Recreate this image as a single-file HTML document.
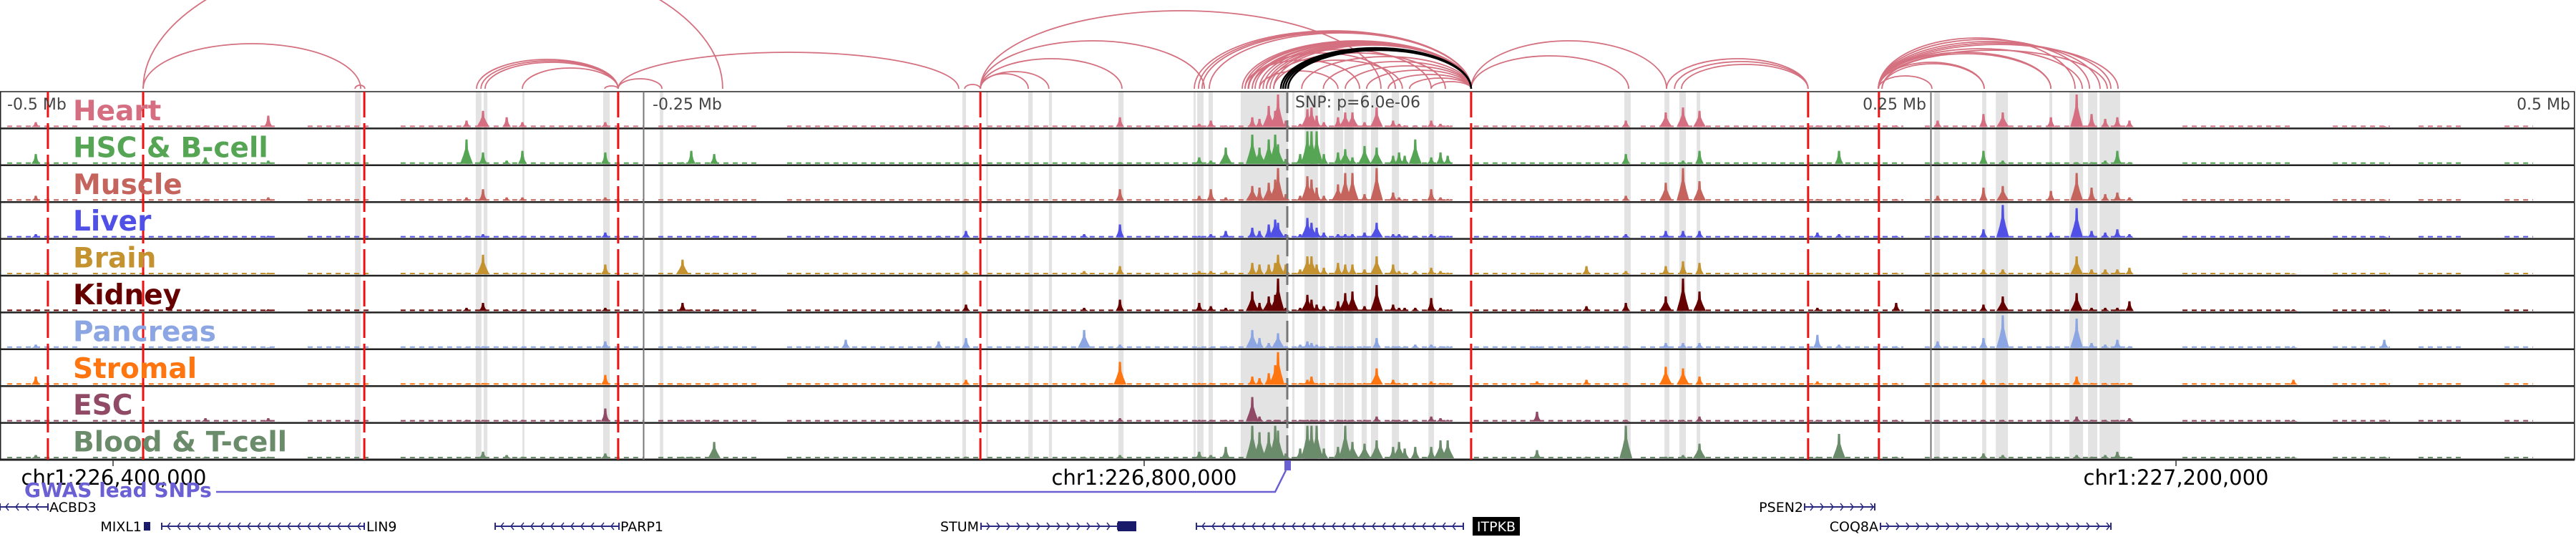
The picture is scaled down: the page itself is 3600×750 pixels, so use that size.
<!DOCTYPE html>
<html><head><meta charset="utf-8">
<style>
html,body{margin:0;padding:0;background:#fff;}
svg{display:block;}
text{font-family:"DejaVu Sans","Liberation Sans",sans-serif;}
</style></head>
<body>
<svg id="chart" width="3600" height="750" viewBox="0 0 3600 750" xmlns="http://www.w3.org/2000/svg">
  <g id="greys"></g>
  <g id="arcs"></g>
  <g id="tracks"></g>
  <g id="vlines"></g>
  <g id="labels"></g>
  <g id="axis">
    <text x="10" y="153" font-size="22" fill="#444">-0.5 Mb</text>
    <text x="912" y="153" font-size="22" fill="#444">-0.25 Mb</text>
    <text x="2692" y="153" font-size="22" fill="#444" text-anchor="end">0.25 Mb</text>
    <text x="3592" y="153" font-size="22" fill="#444" text-anchor="end">0.5 Mb</text>
    <text x="1810" y="150" font-size="22" fill="#444">SNP: p=6.0e-06</text>
    <line x1="158" y1="642" x2="158" y2="651" stroke="#333" stroke-width="1.5"/>
    <line x1="1599" y1="642" x2="1599" y2="651" stroke="#333" stroke-width="1.5"/>
    <line x1="3041" y1="642" x2="3041" y2="651" stroke="#333" stroke-width="1.5"/>
    <text x="159" y="677" font-size="29" text-anchor="middle" fill="#000">chr1:226,400,000</text>
    <text x="1599" y="677" font-size="29" text-anchor="middle" fill="#000">chr1:226,800,000</text>
    <text x="3041" y="677" font-size="29" text-anchor="middle" fill="#000">chr1:227,200,000</text>
  </g>
  <g id="gwas">
    <text x="34" y="694" font-size="28" font-weight="bold" fill="#6a5fd3">GWAS lead SNPs</text>
    <polyline points="302,687 1782,687 1797,657" fill="none" stroke="#6a5fd3" stroke-width="2.5"/>
    <rect x="1795" y="643" width="9" height="14" fill="#6a5fd3"/>
  </g>
  <g id="genes"></g>
</svg>
<script>
// ---- data (positions in kb from window start; window = 1000 kb) ----
const trackNames = ["Heart","HSC & B-cell","Muscle","Liver","Brain","Kidney","Pancreas","Stromal","ESC","Blood & T-cell"];
const trackColors = ["#d66e82","#55a555","#c4645c","#5050e6","#c4922e","#660000","#8ca5e3","#ff7510","#904a66","#6a8c6a"];
const peakPos = [13.9,79.8,104.2,181.2,187.6,196.8,202.9,235.1,265.1,268.5,277.4,328.5,364.6,375.2,421.1,435.0,465.8,470.3,476.1,486.4,489.2,492.8,495.3,496.4,499.4,505.0,507.8,509.4,511.4,514.2,519.7,522.5,525.3,530.0,534.7,541.1,543.4,545.6,549.7,555.9,559.5,562.3,597.0,616.2,631.5,647.0,653.7,660.1,705.9,714.3,736.5,752.6,770.4,777.9,796.6,806.6,812.4,817.7,822.4,827.1,890.8,926.1];
const heartH = [.15,.05,.35,.2,.5,.3,.15,.15,.05,.05,0,0,0,.05,0,.3,.1,.2,.05,.3,.25,.65,.5,1,.2,.1,.55,.6,.35,.15,.3,.45,.45,.15,.6,.2,.1,.05,.05,.2,.1,.05,0,.05,.2,.45,.6,.5,.05,.05,.05,.2,.4,.45,.3,1,.4,.25,.3,.2,0,.03];
const hscH = [.3,.2,.1,.75,.35,.1,.4,.35,.05,.4,.3,0,0,.05,.05,.05,.2,.1,.5,.9,.5,.75,.9,.6,.15,.3,1,1,1,.3,.35,.45,.2,.55,.5,.25,.35,.25,.75,.2,.35,.25,0,0,.3,.05,.1,.4,0,.4,0,.05,.4,.1,.05,.05,.05,.1,.4,.05,0,0];
const muscleH = [.15,.05,.1,.1,.35,.1,.1,.1,0,0,0,0,0,.05,0,.35,.15,.35,.1,.45,.4,.55,.65,1,.2,.15,.75,.65,.4,.15,.5,.85,.85,.2,1,.25,.1,.05,.05,.35,.1,.05,0,.05,.15,.55,1,.6,.05,.05,.05,.15,.4,.45,.3,.85,.4,.2,.25,.1,0,.03];
const liverH = [.1,.05,.05,.05,.1,.05,.05,.15,0,0,.05,0,.05,.2,.1,.4,.05,.1,.2,.3,.2,.4,.55,.45,.1,.1,.6,.45,.3,.15,.1,.1,.1,.15,.45,.1,.1,.05,.05,.1,.05,.05,.05,.05,.1,.2,.2,.2,.15,.1,.05,.05,.25,1,.15,.9,.2,.15,.25,.1,0,.03];
const brainH = [.05,0,.05,.05,.6,.05,.05,.3,.45,0,.05,.05,.05,.1,.1,.25,.1,.1,.1,.35,.3,.3,.35,.6,.3,.15,.55,.55,.3,.2,.35,.3,.3,.15,.55,.3,.1,.05,.1,.2,.1,.05,.05,.25,.1,.25,.4,.35,.05,.05,.05,.05,.15,.15,.1,.55,.15,.15,.15,.2,.03,.05];
const kidneyH = [.05,.05,.05,.1,.25,.05,.05,.1,.25,.05,.05,0,.05,.2,.1,.35,.25,.15,.1,.6,.25,.45,.5,1,.1,.1,.5,.35,.2,.15,.3,.55,.6,.15,.8,.2,.1,.1,.1,.4,.1,.05,.05,.15,.25,.45,1,.6,.1,.05,.25,.05,.2,.45,.05,.55,.1,.1,.1,.3,.05,.05];
const pancreasH = [.1,.02,.02,.02,.05,.02,.02,.2,.02,0,.02,.25,.2,.3,.55,.1,.02,.02,.05,.55,.3,.15,.15,.45,.05,.1,.2,.15,.1,.05,.05,.05,.05,.05,.3,.05,.05,.05,.1,.1,.05,.05,.05,.05,.05,.15,.15,.15,.4,.1,.05,.2,.3,1,.05,.9,.15,.1,.25,.05,.05,.25];
const stromalH = [.25,.02,.02,.02,.05,.02,.02,.3,.02,0,.02,.02,.02,.15,.05,.7,.05,.05,.05,.25,.2,.35,.6,1,.05,.05,.15,.25,.05,.05,.05,.05,.05,.05,.5,.15,.05,.05,.05,.1,.05,.05,.1,.15,.05,.55,.5,.25,.1,.05,.05,.05,.15,.05,.05,.25,.05,.05,.05,.05,.15,.05];
const escH = [.05,.1,.1,.05,.05,.05,.05,.4,.05,.05,.05,0,.05,.05,.05,.1,.05,.05,.05,.75,.15,.05,.05,.05,.05,.05,.05,.05,.05,.05,.05,.05,.05,.05,.15,.05,.05,.05,.05,.15,.1,.05,.3,.05,.05,.05,.05,.15,.05,.05,.05,.05,.05,.05,.05,.15,.05,.05,.05,.1,.05,.05];
const bloodH = [.1,.05,.05,.05,.2,.1,.05,.15,.05,.05,.5,0,.02,.05,.05,.1,.2,.1,.35,1,.8,.8,1,.85,.15,.3,1,1,1,.3,.35,1,.5,.45,.55,.35,.5,.3,.35,.35,.55,.55,.25,.05,1,.05,.1,.45,.05,.75,.05,.05,.15,.1,.05,.1,.05,.1,.2,.05,.05,.05];
const baseSegStart = [2.8,36.1,119.5,155.6,255.7,305.7,383.5,501.7,572.5,637.3,747.6,847.7,906.1,939.4,972.8];
const baseSegEnd   = [30.6,108.4,144.5,250.1,294.6,380.8,500.3,564.2,633.7,739.3,828.2,889.4,928.3,956.1,983.9];
const greyStart = [137.9,184.8,187.9,202.9,234.3,256.3,373.8,383.0,399.4,407.4,434.4,463.6,465.0,469.4,481.9,501.9,506.7,512.8,518.1,522.2,528.9,532.5,540.6,554.8,630.9,646.5,652.3,659.0,751.3,769.9,775.2,796.0,803.8,811.0,815.5];
const greyEnd   = [140.1,187.0,189.3,203.7,236.8,257.6,375.2,383.8,401.1,408.6,436.4,464.4,467.5,471.1,500.3,502.8,511.9,514.7,521.7,525.8,530.9,535.3,543.4,557.0,633.4,648.4,654.8,660.4,753.5,771.5,779.9,797.1,809.1,814.6,823.5];
const redLines = [18.6,55.6,141.5,240.1,380.8,571.4,702.3,729.8];
const arcFrom = [55.6,55.6,137.9,185.1,186.8,188.4,202.9,234.9,240.1,240.1,374.7,380.8,380.8,380.8,380.8,380.8,
  463.9,465.5,466.9,469.7,482.5,483.6,484.8,486.4,487.5,489.2,490.6,491.9,493.3,494.7,
  483.6,485.0,486.4,489.2,491.9,494.7,505.6,514.0,522.5,530.8,539.2,547.5,555.9,
  571.4,571.4,647.3,650.4,653.1,729.6,729.6,731.0,729.6,731.0,729.6,729.6,729.6,729.6,729.6,729.6,729.6];
const arcTo = [280.7,140.1,141.7,240.1,240.1,240.1,240.1,240.1,257.1,372.4,380.8,399.4,407.4,435.8,467.8,536.4,
  571.4,571.4,571.4,571.4,571.4,571.4,571.4,571.4,571.4,571.4,571.4,571.4,571.4,571.4,
  528.1,542.0,555.9,519.7,561.4,544.7,571.4,571.4,571.4,571.4,571.4,571.4,571.4,
  632.6,647.3,702.3,702.3,702.3,750.4,770.7,770.7,796.6,796.6,806.0,808.8,811.6,815.7,818.5,819.9,822.7];
const arcHeight = [200,63,5,41,39,37,29,4,14,51,6,21,24,42,67,109,
  81,80,79,78,67,66,66,65,65,64,63,62,62,61,
  40,50,55,25,50,40,45,38,32,26,20,15,10,
  46,67,42,38,34,18,37,35,51,49,71,56,69,66,54,64,62];
const blackFrom = [497.5,498.4,499.3,500.3];
const blackTo = [571.4,571.4,571.4,571.4];
const blackHeight = [57,56,55,54];

// ---- geometry ----
const X0 = 0, PXPERKB = 3.598;
function xs(kb){ return X0 + kb*PXPERKB; }
const TOP = 128, TH = 51.4, NT = 10, BOT = TOP + TH*NT;
const ARCBASE = 124;
const NS = "http://www.w3.org/2000/svg";
function mk(tag, attrs, parent){
  const e = document.createElementNS(NS, tag);
  for (const k in attrs) e.setAttribute(k, attrs[k]);
  parent.appendChild(e);
  return e;
}

const gG = document.getElementById('greys');
for (let i=0;i<greyStart.length;i++){
  const r = mk('rect',{x:xs(greyStart[i]),y:TOP,width:Math.max(2,xs(greyEnd[i])-xs(greyStart[i])),height:BOT-TOP,fill:'#e3e3e3'},gG);
  
  
}

const aG = document.getElementById('arcs');
function arcPath(a,b,h){
  const x1 = xs(a), x2 = xs(b), rx = (x2-x1)/2;
  return `M${x1},${ARCBASE} A${rx},${h} 0 0 1 ${x2},${ARCBASE}`;
}
for (let i=0;i<arcFrom.length;i++){
  const p = mk('path',{d:arcPath(arcFrom[i],arcTo[i],arcHeight[i]),fill:'none',stroke:'#d4707f','stroke-width':1.8},aG);
  
  
}
for (let i=0;i<blackFrom.length;i++){
  const p = mk('path',{d:arcPath(blackFrom[i],blackTo[i],blackHeight[i]),fill:'none',stroke:'#000','stroke-width':2.5},aG);
  
  
}

const tG = document.getElementById('tracks');
const heights = [heartH,hscH,muscleH,liverH,brainH,kidneyH,pancreasH,stromalH,escH,bloodH];
for (let t=0;t<NT;t++){
  const top = TOP + t*TH, base = top + TH - 2, maxH = TH - 6;
  const g = mk('g',{},tG);
  
  
  for (let s=0;s<baseSegStart.length;s++){
    const ln = mk('line',{x1:xs(baseSegStart[s]),x2:xs(baseSegEnd[s]),y1:base-1,y2:base-1,stroke:trackColors[t],'stroke-width':2,'stroke-dasharray':'7 6'},g);
    
    
  }
  const hs = heights[t];
  for (let i=0;i<peakPos.length;i++){
    const h = hs[i]*maxH;
    if (h <= 0) continue;
    const cx = xs(peakPos[i]);
    const w = h > 20 ? 9 : 6;
    const p = mk('path',{d:`M${cx-w},${base} L${cx-w*0.5},${base-h*0.35} L${cx-2},${base-h*0.6} L${cx-1.5},${base-h} L${cx+1.5},${base-h} L${cx+2},${base-h*0.6} L${cx+w*0.5},${base-h*0.35} L${cx+w},${base} Z`,fill:trackColors[t]},g);
    
    
  }
  const sep = mk('line',{x1:0,x2:3598,y1:top+TH,y2:top+TH,stroke:'#222','stroke-width':t===NT-1?3:2.5},g);
  
  
}
const fr = mk('rect',{x:0.75,y:TOP,width:3597,height:BOT-TOP,fill:'none',stroke:'#222','stroke-width':1.5},tG);



const vG = document.getElementById('vlines');
for (let i=0;i<redLines.length;i++){
  const l = mk('line',{x1:xs(redLines[i]),x2:xs(redLines[i]),y1:TOP,y2:BOT,stroke:'#ee1111','stroke-width':3,'stroke-dasharray':'36 8'},vG);
  
  
}
const gl1 = mk('line',{x1:xs(250),x2:xs(250),y1:TOP,y2:BOT,stroke:'#777','stroke-width':2},vG);


const gl2 = mk('line',{x1:xs(750),x2:xs(750),y1:TOP,y2:BOT,stroke:'#777','stroke-width':2},vG);


const snpl = mk('line',{x1:xs(500),x2:xs(500),y1:TOP,y2:BOT,stroke:'#777','stroke-width':3,'stroke-dasharray':'30 10'},vG);



const lG = document.getElementById('labels');
for (let t=0;t<NT;t++){
  const tx = mk('text',{x:102,y:TOP+t*TH+40,'font-size':39,'font-weight':'bold',fill:trackColors[t]},lG);
  tx.textContent = trackNames[t];
  
  
}

const geG = document.getElementById('genes');
const geneName = ["ACBD3","LIN9","PARP1","STUM","ITPKB","PSEN2","COQ8A"];
const geneX1 = [0,226,692,1371,1672,2522,2628];
const geneX2 = [67,509,865,1562,2045,2620,2950];
const geneRow = [708,735,735,735,735,708,735];
const geneDir = [-1,-1,-1,1,-1,1,1];
for (let i=0;i<geneName.length;i++){
  const y = geneRow[i];
  const g = mk('g',{},geG);
  
  
  mk('line',{x1:geneX1[i],x2:geneX2[i],y1:y,y2:y,stroke:'#2a2a80','stroke-width':2},g);
  for (let x=geneX1[i]+8; x<geneX2[i]-4; x+=14){
    const d = geneDir[i]<0 ? `M${x+4},${y-5} L${x},${y} L${x+4},${y+5}` : `M${x},${y-5} L${x+4},${y} L${x},${y+5}`;
    mk('path',{d:d,fill:'none',stroke:'#2a2a80','stroke-width':1.5},g);
  }
  mk('line',{x1:geneX1[i],x2:geneX1[i],y1:y-5,y2:y+5,stroke:'#2a2a80','stroke-width':2},g);
  mk('line',{x1:geneX2[i],x2:geneX2[i],y1:y-5,y2:y+5,stroke:'#2a2a80','stroke-width':2},g);
}
function gtext(x,y,s,anchor,name,fill){
  const t = mk('text',{x:x,y:y,'font-size':19,'text-anchor':anchor,fill:fill||'#000'},geG);
  t.textContent = s;
  
  
  return t;
}
gtext(69,715,'ACBD3','start','gene-label-acbd3');
gtext(198,742,'MIXL1','end','gene-label-mixl1');
const mix = mk('rect',{x:201,y:729,width:9,height:12,fill:'#1a1a6a'},geG);


gtext(512,742,'LIN9','start','gene-label-lin9');
gtext(867,742,'PARP1','start','gene-label-parp1');
gtext(1368,742,'STUM','end','gene-label-stum');
const stumBox = mk('rect',{x:1562,y:728,width:26,height:14,fill:'#1a1a6a'},geG);


const itbg = mk('rect',{x:2058,y:722,width:66,height:26,fill:'#000'},geG);


gtext(2091,742,'ITPKB','middle','gene-label-itpkb','#fff');
gtext(2520,715,'PSEN2','end','gene-label-psen2');
gtext(2625,742,'COQ8A','end','gene-label-coq8a');
</script>
</body></html>
